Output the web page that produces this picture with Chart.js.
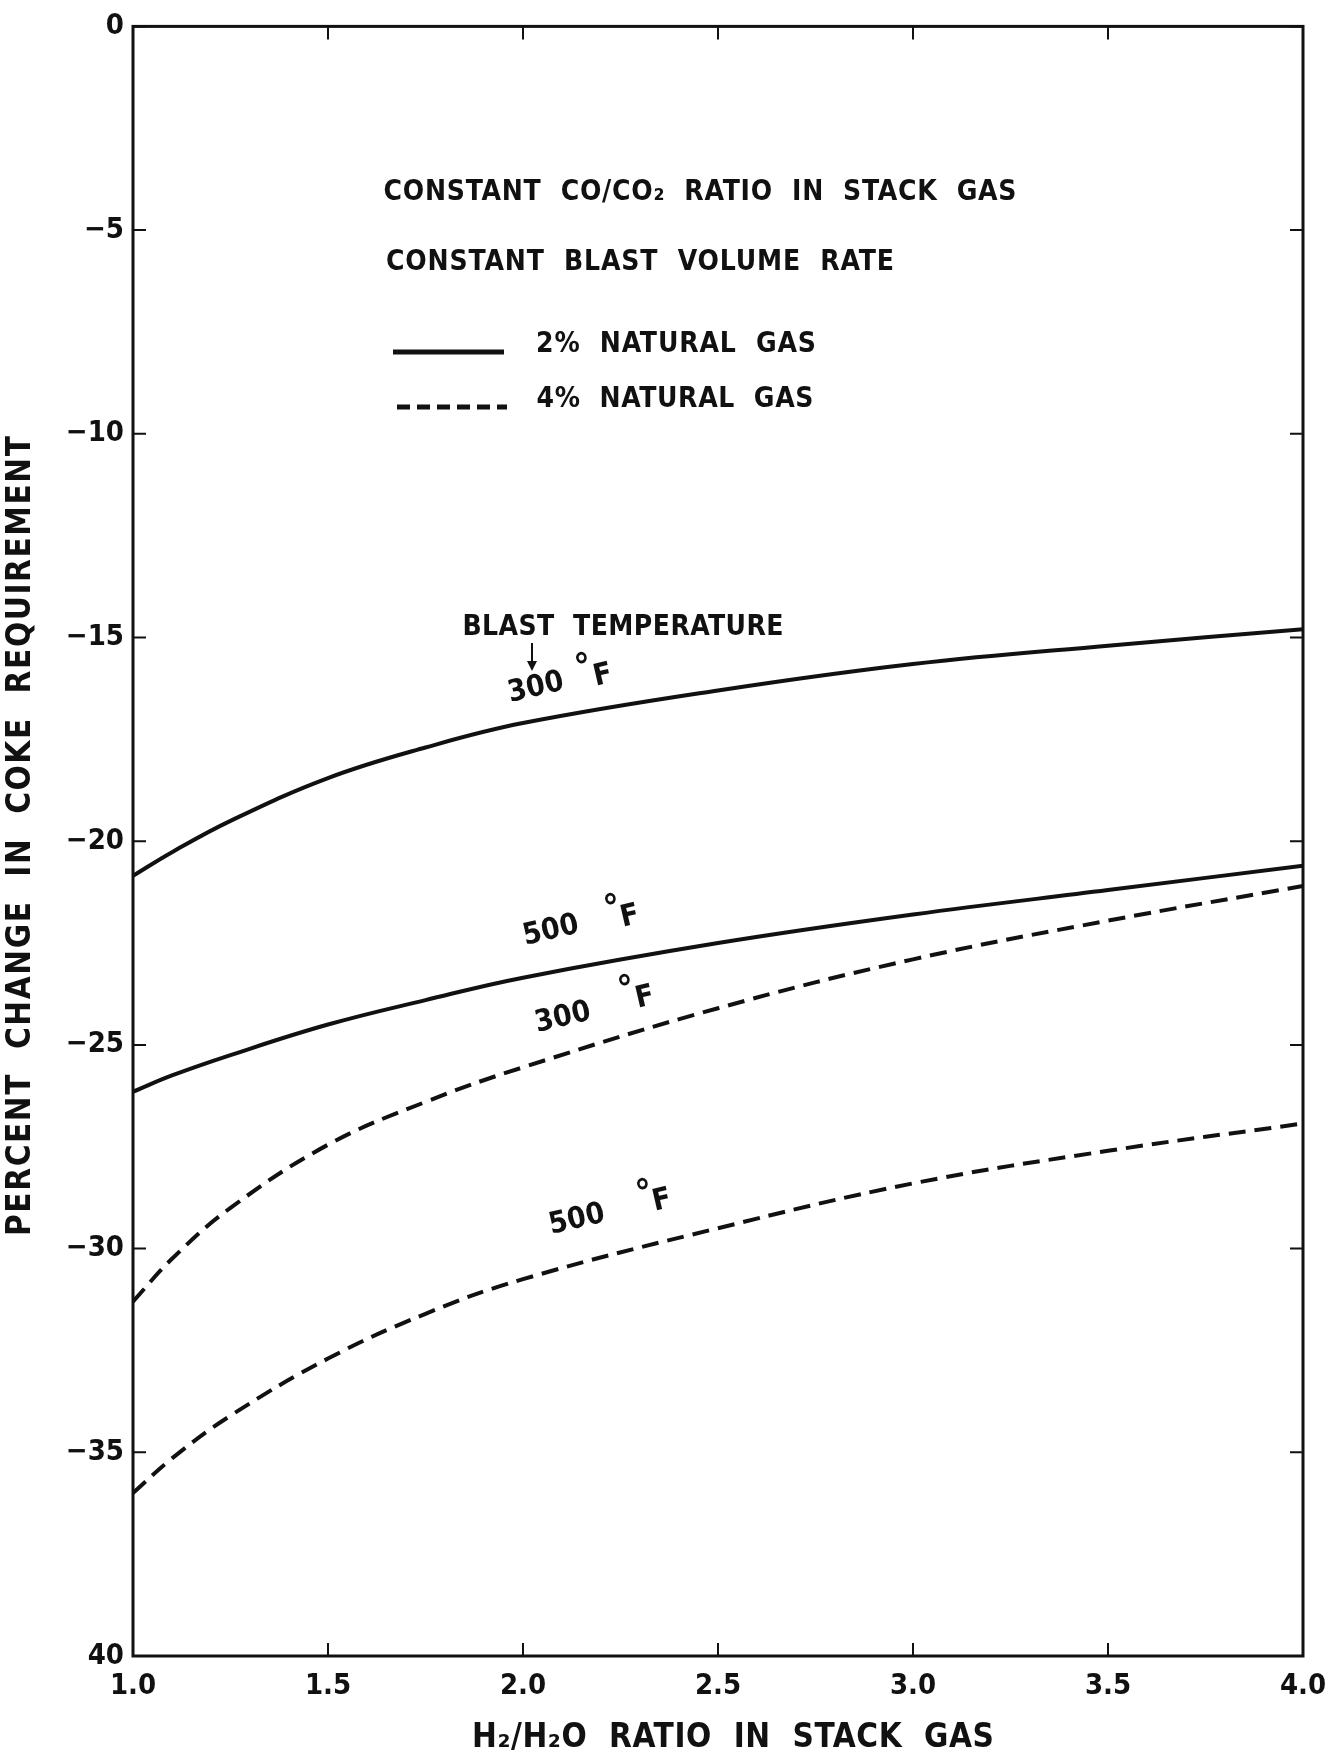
<!DOCTYPE html>
<html>
<head>
<meta charset="utf-8">
<title>Percent change in coke requirement</title>
<script src="https://cdn.jsdelivr.net/npm/chart.js@4.4.1/dist/chart.umd.min.js"></script>
<style>
  html, body { margin: 0; padding: 0; background: #fff; }
  canvas { display: block; }
</style>
</head>
<body>
<canvas id="cokeChart" width="1343" height="1760"></canvas>
<script>
// H2/H2O ratio in stack gas
const ratios = [1.0, 1.1, 1.25, 1.5, 1.75, 2.0, 2.5, 3.0, 3.5, 4.0];

// percent change in coke requirement
const gas2Blast300 = [-20.85, -20.27, -19.5, -18.45, -17.7, -17.1, -16.3, -15.65, -15.2, -14.8];
const gas2Blast500 = [-26.15, -25.75, -25.25, -24.5, -23.9, -23.35, -22.5, -21.8, -21.2, -20.6];
const gas4Blast300 = [-31.3, -30.25, -29.0, -27.45, -26.4, -25.55, -24.1, -22.9, -21.95, -21.1];
const gas4Blast500 = [-36.0, -35.15, -34.1, -32.7, -31.6, -30.75, -29.5, -28.4, -27.6, -26.93];

const xTickValues = [1.0, 1.5, 2.0, 2.5, 3.0, 3.5, 4.0];
const yTickValues = [0, -5, -10, -15, -20, -25, -30, -35, -40];

const FONT = '"DejaVu Sans Condensed", "DejaVu Sans", sans-serif';
const INK = '#111';

function toPoints(ys) {
    return ratios.map((x, i) => ({ x: x, y: ys[i] }));
}

function curve(label, ys, dashed) {
    return {
        label: label,
        data: toPoints(ys),
        showLine: true,
        borderColor: INK,
        borderWidth: 4,
        borderDash: dashed ? [17, 9] : [],
        pointRadius: 0,
        fill: false,
        tension: 0.4
    };
}

// text squeezed or stretched to a given width
function drawFitted(c, text, x, y, width) {
    c.letterSpacing = '0px';
    const natural = c.measureText(text).width;
    const n = [...text].length;
    c.letterSpacing = ((width - natural) / Math.max(n - 1, 1)) + 'px';
    c.textAlign = 'left';
    c.fillText(text, x - width / 2, y);
    c.letterSpacing = '0px';
}

function drawTilted(c, text, x, y, size, angle) {
    c.save();
    c.translate(x, y);
    c.rotate(angle * Math.PI / 180);
    c.font = 'bold ' + size + 'px ' + FONT;
    c.textAlign = 'center';
    c.textBaseline = 'middle';
    c.fillText(text, 0, 0);
    c.restore();
}

const framePlugin = {
    id: 'frame',
    afterDraw(chart) {
        const c = chart.ctx;
        const a = chart.chartArea;
        const xs = chart.scales.x;
        const ys = chart.scales.y;
        const len = 13;
        c.save();
        c.strokeStyle = INK;
        c.lineWidth = 3;
        c.strokeRect(a.left, a.top, a.right - a.left, a.bottom - a.top);
        c.lineWidth = 2;
        c.beginPath();
        xTickValues.forEach(v => {
            const px = xs.getPixelForValue(v);
            c.moveTo(px, a.bottom); c.lineTo(px, a.bottom - len);
            c.moveTo(px, a.top); c.lineTo(px, a.top + len);
        });
        yTickValues.forEach(v => {
            const py = ys.getPixelForValue(v);
            c.moveTo(a.left, py); c.lineTo(a.left + len, py);
            c.moveTo(a.right, py); c.lineTo(a.right - len, py);
        });
        c.stroke();
        c.restore();
    }
};

const notesPlugin = {
    id: 'notes',
    afterDraw(chart) {
        const c = chart.ctx;
        c.save();
        c.fillStyle = INK;
        c.textBaseline = 'middle';

        // axis titles
        c.font = 'bold 33px ' + FONT;
        drawFitted(c, 'H₂/H₂O  RATIO  IN  STACK  GAS', 733, 1738, 522);
        c.save();
        c.translate(21, 836);
        c.rotate(-Math.PI / 2);
        drawFitted(c, 'PERCENT  CHANGE  IN  COKE  REQUIREMENT', 0, 0, 800);
        c.restore();

        // notes and legend
        c.font = 'bold 28px ' + FONT;
        drawFitted(c, 'CONSTANT  CO/CO₂  RATIO  IN  STACK  GAS', 700, 193, 633);
        drawFitted(c, 'CONSTANT  BLAST  VOLUME  RATE', 640, 263, 508);
        drawFitted(c, '2%  NATURAL  GAS', 676, 345, 280);
        drawFitted(c, '4%  NATURAL  GAS', 675, 400, 277);

        c.strokeStyle = INK;
        c.lineWidth = 5;
        c.beginPath();
        c.moveTo(393, 352); c.lineTo(504, 352);
        c.stroke();
        c.setLineDash([13, 7]);
        c.beginPath();
        c.moveTo(397, 407); c.lineTo(507, 407);
        c.stroke();
        c.setLineDash([]);

        // blast temperature labels
        drawFitted(c, 'BLAST  TEMPERATURE', 623, 628, 321);
        c.lineWidth = 2;
        c.beginPath();
        c.moveTo(532, 643); c.lineTo(532, 668);
        c.stroke();
        c.beginPath();
        c.moveTo(527, 661); c.lineTo(532, 671); c.lineTo(537, 661);
        c.closePath();
        c.fill();

        const tilt = -13;
        [
            ['300', 536, 688, 603, 676, 584, 669],
            ['500', 551, 931, 630, 917, 613, 910],
            ['300', 563, 1018, 645, 998, 627, 991],
            ['500', 577, 1220, 662, 1201, 645, 1195]
        ].forEach(t => {
            drawTilted(c, t[0], t[1], t[2], 30, tilt);
            drawTilted(c, 'F', t[3], t[4], 30, tilt);
            drawTilted(c, '°', t[5], t[6], 36, tilt);
        });
        c.restore();
    }
};

const tickFont = { family: FONT, size: 29, weight: 'bold' };

new Chart(document.getElementById('cokeChart').getContext('2d'), {
    type: 'scatter',
    data: {
        datasets: [
            curve('2% natural gas, 300 °F', gas2Blast300, false),
            curve('2% natural gas, 500 °F', gas2Blast500, false),
            curve('4% natural gas, 300 °F', gas4Blast300, true),
            curve('4% natural gas, 500 °F', gas4Blast500, true)
        ]
    },
    options: {
        responsive: false,
        animation: false,
        layout: { padding: { top: 17, right: 40, left: 0, bottom: 0 } },
        plugins: {
            legend: { display: false },
            tooltip: { enabled: false }
        },
        scales: {
            x: {
                type: 'linear',
                min: 1,
                max: 4,
                afterBuildTicks: s => { s.ticks = xTickValues.map(v => ({ value: v })); },
                afterFit: s => { s.height = 104; },
                grid: { display: false, drawTicks: false },
                border: { display: false },
                ticks: {
                    font: tickFont,
                    color: INK,
                    padding: 13,
                    maxRotation: 0,
                    callback: v => Number(v).toFixed(1)
                }
            },
            y: {
                type: 'linear',
                min: -40,
                max: 0,
                afterBuildTicks: s => { s.ticks = yTickValues.map(v => ({ value: v })); },
                afterFit: s => { s.width = 133; },
                grid: { display: false, drawTicks: false },
                border: { display: false },
                ticks: {
                    font: tickFont,
                    color: INK,
                    padding: 9,
                    callback: v => v === -40 ? '40' : (v === 0 ? '0' : '−' + Math.abs(v))
                }
            }
        }
    },
    plugins: [framePlugin, notesPlugin]
});
</script>
</body>
</html>
